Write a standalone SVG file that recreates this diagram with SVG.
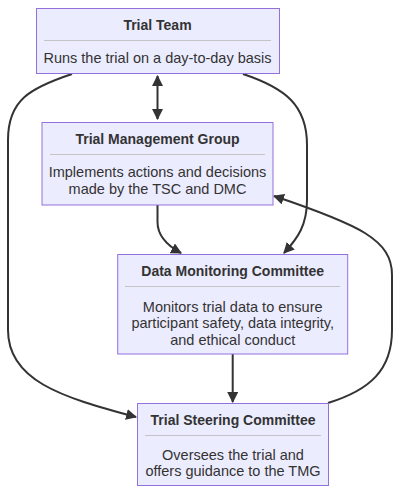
<svg xmlns="http://www.w3.org/2000/svg" width="408" height="503" viewBox="0 0 408 503">
<defs>
<marker id="ah" viewBox="0 0 10 10" refX="9" refY="5" markerUnits="userSpaceOnUse" markerWidth="11" markerHeight="11" orient="auto-start-reverse">
<path d="M0,0 L10,5 L0,10 z" fill="#333333"/>
</marker>
<style>
.box{fill:#ECECFF;stroke:#9370DB;stroke-width:1}
.sep{stroke:#c4c4c4;stroke-width:1}
.t{font-family:"Liberation Sans",Arial,sans-serif;font-size:14px;font-weight:bold;fill:#333333;text-anchor:middle}
.d{font-family:"Liberation Sans",Arial,sans-serif;font-size:14.5px;fill:#333333;text-anchor:middle}
.e{fill:none;stroke:#333333;stroke-width:2}
</style>
</defs>
<rect width="408" height="503" fill="#ffffff"/>
<g id="connectors">
<path class="e" d="M157.5,76 L157.5,119" marker-start="url(#ah)" marker-end="url(#ah)"/>
<path class="e" d="M72,74 C30,88 8,100 8,140 L8,330 C8,380 60,397 136,417" marker-end="url(#ah)"/>
<path class="e" d="M243,74 C285,88 307,105 307,145 L307,200 C307,225 298,238 284,253" marker-end="url(#ah)"/>
<path class="e" d="M157.5,205 L157.5,222 C157.5,236 168,246 181,253" marker-end="url(#ah)"/>
<path class="e" d="M232.7,354 L232.7,402" marker-end="url(#ah)"/>
<path class="e" d="M328,403 C370,390 392,370 392,330 L392,275 C392,240 360,225 274,196" marker-end="url(#ah)"/>
</g>
<g id="trial-team">
<rect class="box" x="36.5" y="8.5" width="243" height="65"/>
<text class="t" x="157.5" y="29.5">Trial Team</text>
<line class="sep" x1="44" y1="40.5" x2="271" y2="40.5"/>
<text class="d" x="157.5" y="62.5">Runs the trial on a day-to-day basis</text>
</g>
<g id="tmg">
<rect class="box" x="42" y="122.5" width="231" height="82.5"/>
<text class="t" x="157.5" y="144.3">Trial Management Group</text>
<line class="sep" x1="50" y1="154.5" x2="265" y2="154.5"/>
<text class="d" x="157.5" y="177.3">Implements actions and decisions</text>
<text class="d" x="157.5" y="193.5">made by the TSC and DMC</text>
</g>
<g id="dmc">
<rect class="box" x="117.7" y="254.5" width="230" height="99.5"/>
<text class="t" x="232.7" y="276">Data Monitoring Committee</text>
<line class="sep" x1="125" y1="286.5" x2="340" y2="286.5"/>
<text class="d" x="232.7" y="311.5">Monitors trial data to ensure</text>
<text class="d" x="232.7" y="328">participant safety, data integrity,</text>
<text class="d" x="232.7" y="344.5">and ethical conduct</text>
</g>
<g id="tsc">
<rect class="box" x="137.5" y="403.5" width="191" height="82"/>
<text class="t" x="233" y="425">Trial Steering Committee</text>
<line class="sep" x1="145" y1="435.5" x2="321" y2="435.5"/>
<text class="d" x="233" y="460">Oversees the trial and</text>
<text class="d" x="233" y="476">offers guidance to the TMG</text>
</g>
</svg>
